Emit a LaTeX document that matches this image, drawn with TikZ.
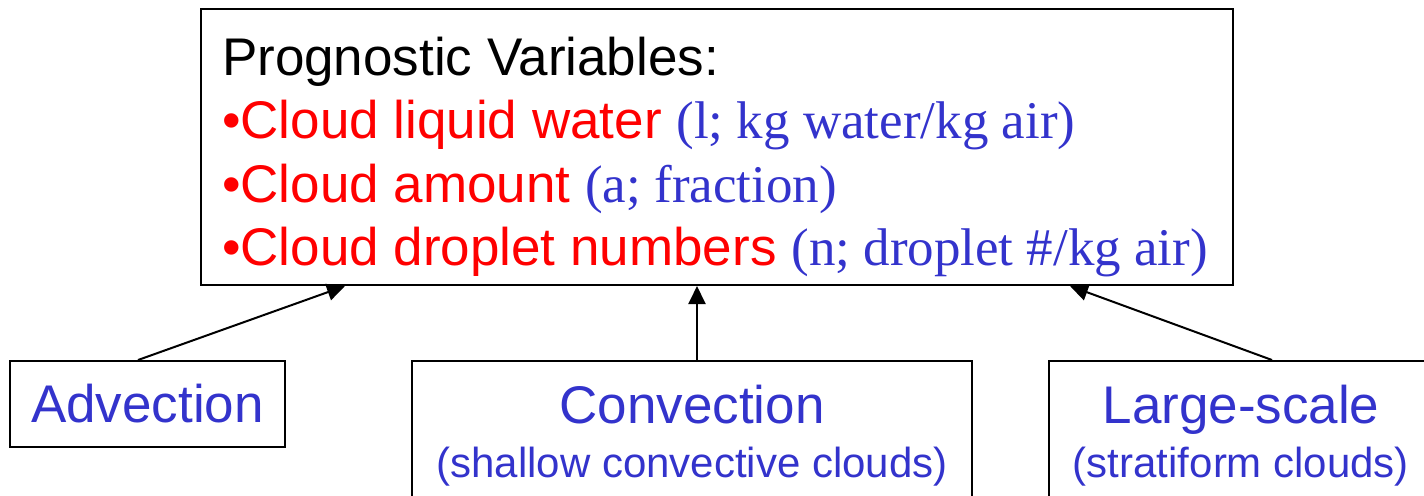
\documentclass[tikz,border=0pt]{standalone}
\usepackage{fontspec}
\setmainfont{Liberation Sans}
\newfontfamily\unitfont{Liberation Serif}
\usetikzlibrary{arrows.meta}
\definecolor{varred}{RGB}{255,0,0}
\definecolor{procblue}{RGB}{51,51,204}
\newcommand{\bigsize}{\fontsize{26.5pt}{27pt}\selectfont}
\newcommand{\subsize}{\fontsize{21pt}{27pt}\selectfont}
\newcommand{\unit}[1]{{\unitfont\color{procblue}#1}}

\begin{document}
\begin{tikzpicture}[x=0.5pt, y=-0.5pt, >={Triangle[length=9pt,width=8.5pt]}, line width=1pt,
    every node/.style={font=\bigsize},
    line/.style={anchor=base west, inner sep=0pt},
    procbox/.style={draw, anchor=north, align=center, text=procblue, inner xsep=0pt, inner ysep=12pt}]
    \useasboundingbox (0,0) rectangle (1424,495);
    \clip (0,0) rectangle (1424,495);
        \node[draw, minimum width=516pt, minimum height=138pt, inner sep=0pt] (prog) at (717,147) {};
        \node[line] (title) at (221,75) {Prognostic Variables:};
        \node[line, text=varred] (liq) at (221,138.5) {•Cloud liquid water \unit{(l; kg water/kg air)}};
        \node[line, text=varred] (amt) at (221,202) {•Cloud amount \unit{(a; fraction)}};
        \node[line, text=varred] (num) at (221,265.5) {•Cloud droplet numbers \unit{(n; droplet \#/kg air)}};
        \node[draw, anchor=north, text=procblue, minimum width=137.5pt, minimum height=43pt, inner sep=0pt] (adv) at (147.5,360) {Advection};
        \node[procbox, minimum width=280pt] (conv) at (692,360) {Convection\\{\subsize(shallow convective clouds)}};
        \node[procbox, minimum width=192pt] (lsc) at (1241,360) {Large-scale\\{\subsize(stratiform clouds)}};
        \draw[->] ([xshift=-4.75pt]adv.north) -- ([xshift=-186pt]prog.south);
        \draw[->] ([xshift=2.5pt]conv.north) -- ([xshift=2.5pt]conv.north |- prog.south);
        \draw[->] ([xshift=15.5pt]lsc.north) -- ([xshift=176.5pt]prog.south);
    \end{tikzpicture}
\end{document}
